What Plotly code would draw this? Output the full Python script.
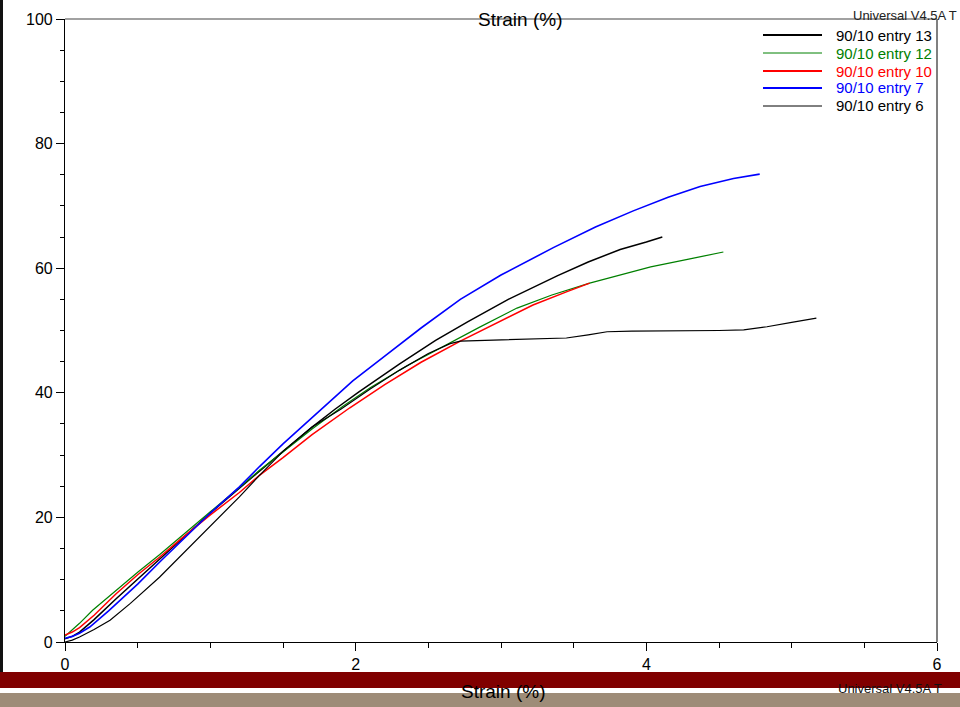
import plotly.graph_objects as go

# Stress-strain curves, strain (%) vs stress
entry13_x = [0, 0.05, 0.1, 0.2, 0.35, 0.5, 0.65, 0.8, 1.0, 1.2, 1.34, 1.5, 1.7, 1.86, 2.02, 2.3, 2.55, 2.77, 3.05, 3.39, 3.6, 3.82, 4.0, 4.11]
entry13_y = [0.5, 0.9, 1.6, 3.6, 6.9, 10.1, 13.3, 16.5, 20.7, 24.7, 27.5, 30.6, 34.5, 37.4, 40.1, 44.6, 48.4, 51.4, 55.0, 58.8, 61.0, 63.0, 64.2, 65.0]

entry12_x = [0, 0.05, 0.1, 0.19, 0.35, 0.5, 0.65, 0.8, 1.0, 1.2, 1.34, 1.5, 1.7, 1.91, 2.1, 2.35, 2.58, 2.85, 3.11, 3.35, 3.61, 3.8, 4.03, 4.3, 4.53]
entry12_y = [0.9, 1.9, 3.0, 5.1, 8.3, 11.2, 14.0, 16.9, 20.9, 24.8, 27.6, 30.5, 34.2, 37.8, 40.8, 44.3, 47.2, 50.5, 53.6, 55.7, 57.6, 58.8, 60.2, 61.5, 62.6]

entry10_x = [0, 0.05, 0.1, 0.2, 0.35, 0.5, 0.65, 0.8, 1.0, 1.2, 1.34, 1.5, 1.7, 1.96, 2.2, 2.45, 2.72, 2.95, 3.22, 3.45, 3.61]
entry10_y = [1.1, 1.6, 2.3, 4.3, 7.7, 10.8, 13.6, 16.6, 20.4, 24.0, 26.8, 29.6, 33.3, 37.6, 41.3, 44.9, 48.3, 51.0, 54.1, 56.2, 57.6]

entry7_x = [0, 0.05, 0.1, 0.17, 0.3, 0.5, 0.65, 0.8, 1.0, 1.2, 1.34, 1.5, 1.74, 1.98, 2.2, 2.45, 2.72, 3.0, 3.36, 3.65, 3.91, 4.15, 4.37, 4.6, 4.78]
entry7_y = [0.6, 0.9, 1.4, 2.4, 5.0, 9.3, 12.8, 16.2, 20.7, 24.9, 28.2, 31.8, 36.9, 41.9, 45.9, 50.4, 55.0, 58.9, 63.3, 66.6, 69.2, 71.4, 73.1, 74.4, 75.1]

entry6_x = [0, 0.05, 0.1, 0.2, 0.31, 0.45, 0.65, 0.8, 1.0, 1.2, 1.34, 1.5, 1.7, 1.9, 2.1, 2.3, 2.5, 2.65, 2.72, 2.9, 3.1, 3.3, 3.45, 3.6, 3.73, 3.9, 4.2, 4.5, 4.67, 4.83, 5.0, 5.17]
entry6_y = [0.0, 0.3, 0.8, 2.0, 3.5, 6.2, 10.4, 13.9, 18.5, 23.3, 26.8, 30.6, 34.5, 37.4, 40.6, 43.6, 46.3, 47.9, 48.3, 48.4, 48.5, 48.6, 48.8, 49.3, 49.8, 49.9, 49.9, 50.0, 50.1, 50.6, 51.3, 52.0]

names = ["90/10 entry 13", "90/10 entry 12", "90/10 entry 10", "90/10 entry 7", "90/10 entry 6"]
colors = ["#000000", "#008000", "#ff0000", "#0000ff", "#000000"]
widths = [1.5, 1.2, 1.5, 1.6, 1.2]
legend_widths = [2.2, 1.0, 2.2, 2.2, 1.0]
series = [(entry13_x, entry13_y), (entry12_x, entry12_y), (entry10_x, entry10_y),
          (entry7_x, entry7_y), (entry6_x, entry6_y)]

x_ticks = [0, 2, 4, 6]
y_ticks = [0, 20, 40, 60, 80, 100]

FONT = "Arial, Liberation Sans, sans-serif"
W, H = 960, 707
L, R, T, B = 65, 23, 19, 65
PW, PH = W - L - R, H - T - B


def px(xp, yp):
    """Pixel position -> paper coordinates."""
    return (xp - L) / PW, (H - B - yp) / PH


fig = go.Figure()
for (xs, ys), name, c, w in zip(series, names, colors, widths):
    fig.add_trace(go.Scatter(x=xs, y=ys, mode="lines", name=name,
                             line=dict(color=c, width=w),
                             showlegend=False))

shapes = []
annotations = []

# left dark strip
x0, y0 = px(0, 672)
x1, y1 = px(3, 0)
shapes.append(dict(type="rect", xref="paper", yref="paper", x0=x0, x1=x1, y0=y0, y1=y1,
                   fillcolor="#111111", line=dict(width=0), layer="above"))
# footer bars
x0, y0 = px(0, 688)
x1, y1 = px(960, 672)
shapes.append(dict(type="rect", xref="paper", yref="paper", x0=x0, x1=x1, y0=y0, y1=y1,
                   fillcolor="#800000", line=dict(width=0), layer="above"))
x0, y0 = px(0, 707)
x1, y1 = px(960, 693)
shapes.append(dict(type="rect", xref="paper", yref="paper", x0=x0, x1=x1, y0=y0, y1=y1,
                   fillcolor="#9e8c78", line=dict(width=0), layer="above"))
# top and right frame lines
shapes.append(dict(type="line", xref="paper", yref="paper", x0=0, x1=1, y0=1, y1=1,
                   line=dict(color="#444444", width=1.2)))
shapes.append(dict(type="line", xref="paper", yref="paper", x0=1, x1=1, y0=0, y1=1,
                   line=dict(color="#808080", width=2)))

# legend
leg_y = [35, 53, 71, 88, 106]
for name, c, lw, yy in zip(names, colors, legend_widths, leg_y):
    lx0, ly = px(763, yy)
    lx1, _ = px(822, yy)
    shapes.append(dict(type="line", xref="paper", yref="paper", x0=lx0, x1=lx1, y0=ly, y1=ly,
                       line=dict(color=c, width=lw)))
    tx, _ = px(834, yy)
    annotations.append(dict(xref="paper", yref="paper", x=tx, y=ly, text=name, showarrow=False,
                            xanchor="left", yanchor="middle",
                            font=dict(family=FONT, size=15, color=c)))

# header / footer texts
tx, ty = px(520, 20)
annotations.append(dict(xref="paper", yref="paper", x=tx, y=ty, text="Strain (%)", showarrow=False,
                        xanchor="center", yanchor="middle", font=dict(family=FONT, size=19, color="#000")))
tx, ty = px(503, 691)
annotations.append(dict(xref="paper", yref="paper", x=tx, y=ty, text="Strain (%)", showarrow=False,
                        xanchor="center", yanchor="middle", font=dict(family=FONT, size=19, color="#000")))
tx, ty = px(851, 15)
annotations.append(dict(xref="paper", yref="paper", x=tx, y=ty, text="Universal V4.5A T", showarrow=False,
                        xanchor="left", yanchor="middle", font=dict(family=FONT, size=13, color="#222")))
tx, ty = px(836, 688)
annotations.append(dict(xref="paper", yref="paper", x=tx, y=ty, text="Universal V4.5A T", showarrow=False,
                        xanchor="left", yanchor="middle", font=dict(family=FONT, size=13, color="#111")))

fig.update_layout(
    width=W, height=H,
    margin=dict(l=L, r=R, t=T, b=B, pad=0),
    paper_bgcolor="white", plot_bgcolor="white",
    shapes=shapes, annotations=annotations,
    showlegend=False,
    xaxis=dict(range=[0, 6], tickvals=x_ticks, ticktext=[str(v) for v in x_ticks],
               ticks="outside", ticklen=8, tickwidth=1, tickcolor="#000",
               minor=dict(dtick=0.5, ticks="outside", ticklen=5, tickcolor="#000", tickwidth=1),
               showline=True, linecolor="#000", linewidth=1.2,
               showgrid=False, zeroline=False,
               tickfont=dict(family=FONT, size=16, color="#000")),
    yaxis=dict(range=[0, 100], tickvals=y_ticks, ticktext=[str(v) for v in y_ticks],
               ticks="outside", ticklen=8, tickwidth=1, tickcolor="#000",
               minor=dict(dtick=5, ticks="outside", ticklen=4, tickcolor="#000", tickwidth=1),
               showline=True, linecolor="#000", linewidth=1.2,
               showgrid=False, zeroline=False,
               tickfont=dict(family=FONT, size=16, color="#000")),
)

fig.write_html("out.html")
